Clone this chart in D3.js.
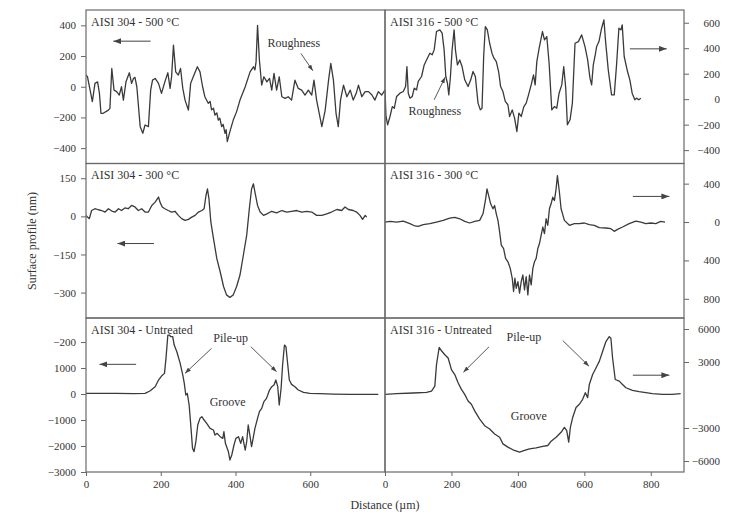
<!DOCTYPE html>
<html>
<head>
<meta charset="utf-8">
<script src="https://cdn.jsdelivr.net/npm/d3@7"></script>
<style>
  body { margin: 0; background: #fff; }
  svg { display: block; }
  text { font-family: 'Liberation Serif', 'Times New Roman', serif; fill: #333; }
</style>
</head>
<body>
<div id="chart"></div>
<script>
// surface profiles, [distance (um), height (nm)]
const p304_500 = [[0,76],[4,65],[11,-22],[17,-97],[24,22],[31,32],[36,-43],[40,-173],[46,-173],[60,-152],[64,-141],[69,119],[75,-22],[82,-32],[89,-54],[95,0],[100,-87],[107,32],[116,91],[122,22],[127,54],[131,61],[136,0],[145,-260],[152,-303],[158,-249],[167,-260],[173,-22],[178,43],[185,54],[194,22],[202,-43],[211,32],[219,91],[225,-11],[229,65],[234,271],[240,97],[247,76],[253,119],[259,-11],[265,-87],[274,-152],[280,22],[287,65],[298,130],[305,97],[312,0],[318,-65],[327,-108],[332,-95],[336,-150],[341,-140],[345,-184],[350,-170],[354,-217],[358,-205],[363,-260],[367,-245],[372,-303],[375,-280],[378,-357],[382,-320],[385,-292],[390,-250],[394,-217],[403,-162],[412,-87],[426,0],[439,97],[448,130],[452,110],[455,162],[459,400],[464,173],[470,11],[476,65],[484,32],[491,54],[497,-22],[503,87],[510,-22],[517,65],[524,-65],[533,-76],[541,-65],[550,-87],[559,43],[568,-11],[577,-22],[586,-54],[595,-22],[604,-54],[610,43],[617,-87],[624,-173],[631,-260],[640,-152],[649,43],[655,152],[662,43],[669,-173],[675,-260],[681,-87],[689,11],[698,-65],[707,-22],[715,-87],[723,-43],[729,11],[738,-65],[747,-32],[756,-32],[765,-54],[773,-87],[782,-32],[791,-54],[800,-22]];

const p316_500 = [[0,73],[3,-136],[8,-201],[15,-136],[22,-58],[28,-71],[35,21],[45,47],[55,60],[62,99],[66,256],[70,47],[75,8],[82,21],[88,86],[95,73],[100,139],[110,178],[118,269],[125,308],[135,361],[142,348],[148,387],[155,531],[165,544],[172,518],[178,387],[183,178],[188,125],[192,34],[197,178],[202,387],[208,544],[212,387],[218,269],[225,308],[232,256],[240,152],[250,99],[258,152],[265,217],[272,178],[280,-31],[287,-84],[292,-71],[297,335],[302,570],[308,544],[315,439],[322,361],[328,322],[335,295],[342,217],[348,99],[355,60],[362,-18],[370,-44],[375,-136],[383,-84],[390,-149],[397,-254],[403,-110],[410,-136],[418,-58],[425,-31],[432,34],[440,112],[447,191],[452,112],[457,295],[464,400],[474,531],[480,465],[487,491],[494,282],[502,-84],[510,-58],[517,-71],[524,47],[532,112],[538,256],[544,86],[549,-201],[557,-162],[564,-31],[572,439],[582,452],[592,505],[602,413],[610,308],[617,165],[622,112],[627,269],[632,335],[637,413],[644,452],[652,557],[659,622],[664,452],[672,230],[682,34],[690,34],[697,269],[704,557],[710,544],[714,583],[720,335],[730,217],[737,152],[744,47],[752,-5],[757,8],[764,-5],[770,8]];

const p304_300 = [[0,4],[4,-3],[9,-9],[15,23],[24,30],[33,26],[42,23],[51,17],[60,30],[69,21],[78,17],[87,30],[95,23],[104,33],[113,30],[122,43],[131,37],[140,23],[149,30],[158,17],[167,17],[176,43],[185,56],[194,76],[198,56],[204,37],[211,30],[220,23],[229,17],[238,20],[247,4],[256,-9],[265,-16],[274,-12],[283,-3],[292,4],[301,17],[310,23],[316,30],[321,82],[325,108],[329,69],[334,-22],[341,-87],[350,-166],[359,-218],[368,-276],[376,-309],[385,-319],[394,-309],[403,-276],[412,-231],[421,-153],[430,-74],[437,30],[443,108],[448,128],[452,95],[459,43],[466,17],[475,4],[484,10],[497,20],[510,14],[524,23],[537,17],[550,20],[564,23],[577,17],[591,20],[604,17],[617,4],[631,4],[644,10],[657,17],[671,27],[684,23],[693,37],[702,27],[715,23],[724,17],[733,4],[740,-12],[747,4],[751,-3]];

const p316_300 = [[0,0],[15,7],[35,0],[55,10],[75,-17],[90,-41],[100,-45],[115,-28],[135,-17],[155,0],[175,17],[195,41],[210,48],[225,34],[240,7],[255,-10],[270,7],[285,17],[295,86],[303,241],[307,345],[312,276],[318,190],[325,138],[330,172],[335,86],[340,17],[345,-103],[350,-241],[357,-276],[363,-379],[370,-414],[377,-483],[383,-586],[387,-724],[391,-586],[395,-690],[400,-621],[405,-741],[410,-621],[415,-552],[420,-707],[425,-569],[430,-759],[435,-552],[440,-655],[445,-483],[450,-414],[455,-379],[460,-276],[465,-224],[470,-138],[475,-52],[480,-121],[485,34],[490,-34],[495,138],[500,190],[505,259],[510,224],[515,345],[519,483],[525,310],[530,138],[540,17],[555,-34],[570,-17],[585,-17],[600,-10],[615,-28],[630,-34],[645,-59],[665,-62],[680,-69],[690,-97],[700,-76],[715,-52],[735,-17],[755,10],[770,0],[785,-17],[800,-10],[815,-17],[830,7],[843,0]];

const p304_un = [[0,26],[37,26],[82,26],[127,13],[158,26],[171,115],[185,282],[194,538],[202,692],[210,795],[214,1372],[219,2269],[223,2269],[227,2205],[232,2205],[236,1885],[243,1628],[252,1179],[259,731],[263,410],[267,-38],[271,26],[276,-423],[281,-1320],[285,-2090],[289,-2218],[294,-1833],[299,-1192],[305,-936],[310,-872],[316,-1000],[323,-1128],[332,-1320],[341,-1384],[345,-1577],[351,-1513],[359,-1641],[366,-1705],[369,-1449],[373,-1897],[381,-2218],[385,-2538],[390,-2346],[396,-1961],[401,-1705],[408,-1641],[414,-1897],[419,-1641],[426,-2154],[430,-1833],[434,-1192],[439,-1641],[443,-2026],[448,-1641],[452,-1320],[459,-936],[464,-679],[470,-551],[476,-295],[483,-167],[491,154],[497,282],[503,346],[508,538],[513,282],[517,-423],[522,218],[526,1115],[531,1885],[535,1820],[539,1244],[544,538],[550,372],[559,282],[568,154],[582,64],[599,26],[626,13],[662,0],[707,-13],[751,-13],[782,-13]];

const p316_un = [[0,60],[35,120],[85,180],[125,240],[140,360],[150,810],[155,2760],[163,4320],[170,4020],[180,3660],[190,3360],[200,2310],[210,1860],[220,1110],[230,510],[240,60],[250,-540],[260,-840],[270,-1440],[285,-2190],[300,-2790],[315,-3090],[330,-3540],[345,-3840],[355,-4440],[370,-4740],[385,-4980],[405,-5190],[420,-5040],[435,-4890],[455,-4800],[475,-4680],[490,-4590],[500,-4200],[515,-3840],[530,-3390],[540,-2940],[547,-3240],[553,-4290],[558,-2940],[565,-2040],[575,-1140],[585,-840],[595,-390],[603,210],[610,-240],[615,960],[625,1860],[635,2460],[645,3060],[655,3960],[665,4860],[675,5310],[680,5160],[685,3360],[693,1410],[705,1260],[715,960],[725,660],[745,420],[765,300],[785,210],[805,120],[835,60],[865,60],[890,120]];

const profiles = [p304_500, p316_500, p304_300, p316_300, p304_un, p316_un];
const panelTitles = ['AISI 304 - 500 °C', 'AISI 316 - 500 °C', 'AISI 304 - 300 °C', 'AISI 316 - 300 °C', 'AISI 304 - Untreated', 'AISI 316 - Untreated'];

const xDomainLeft = [0, 800];
const xDomainRight = [0, 900];
const xTicksLeft = [0, 200, 400, 600];
const xTicksRight = [0, 200, 400, 600, 800];

const yDomains = [[-500, 500], [-505, 700], [-400, 208], [-1000, 610], [-3000, 2925], [-7000, 7000]];
const yTicks = [[-400,-200,0,200,400], [-400,-200,0,200,400,600], [-300,-150,0,150], [-800,-400,0,400], [-3000,-2000,-1000,0,1000,2000], [-6000,-3000,3000,6000]];
// labels as printed (including the unsigned lower labels and the "−200" typo)
const yTickLabels = [['−400','−200','0','200','400'], ['−400','−200','0','200','400','600'], ['−300','−150','0','150'], ['800','400','0','400'], ['−3000','−2000','−1000','0','1000','−200'], ['−6000','−3000','3000','6000']];

// axis-side arrows per panel: [x from, x to, y]
const sideArrows = [[173,73,297], [737,848,395], [182,84,-107], [746,856,267], [134,36,1142], [746,856,1800]];

// annotations: panel index, text, x, y
const notes = [
  { p: 0, text: 'Roughness', x: 556, y: 286 },
  { p: 1, text: 'Roughness', x: 150, y: -92 },
  { p: 4, text: 'Pile-up', x: 387, y: 2150 },
  { p: 4, text: 'Groove', x: 379, y: -296 },
  { p: 5, text: 'Pile-up', x: 418, y: 5255 },
  { p: 5, text: 'Groove', x: 433, y: -1927 }
];
const pointers = [
  { p: 0, x1: 575, y1: 217, x2: 607, y2: 104 },
  { p: 1, x1: 148, y1: -5, x2: 181, y2: 173 },
  { p: 4, x1: 336, y1: 1758, x2: 265, y2: 796 },
  { p: 4, x1: 441, y1: 1819, x2: 510, y2: 858 },
  { p: 5, x1: 313, y1: 4382, x2: 236, y2: 2073 },
  { p: 5, x1: 535, y1: 4955, x2: 614, y2: 2618 }
];

const width = 739, height = 515;
const cols = [[86, 385], [385, 684]];
const rows = [[10, 163.5], [163.5, 318], [318, 472]];

const svg = d3.select('#chart').append('svg')
  .attr('width', width)
  .attr('height', height);

const defs = svg.append('defs');
defs.append('marker')
  .attr('id', 'head')
  .attr('viewBox', '0 0 8 6')
  .attr('refX', 8).attr('refY', 3)
  .attr('markerWidth', 8).attr('markerHeight', 6)
  .attr('markerUnits', 'userSpaceOnUse')
  .attr('orient', 'auto')
  .append('path').attr('d', 'M0,0L8,3L0,6Z').attr('fill', '#444');
defs.append('marker')
  .attr('id', 'head-sm')
  .attr('viewBox', '0 0 7 5')
  .attr('refX', 7).attr('refY', 2.5)
  .attr('markerWidth', 6).attr('markerHeight', 4.5)
  .attr('markerUnits', 'userSpaceOnUse')
  .attr('orient', 'auto')
  .append('path').attr('d', 'M0,0L7,2.5L0,5Z').attr('fill', '#444');

const scales = [];

profiles.forEach((data, i) => {
  const r = Math.floor(i / 2), c = i % 2;
  const [x0, x1] = cols[c];
  const [y0, y1] = rows[r];

  const x = d3.scaleLinear().domain(c === 0 ? xDomainLeft : xDomainRight).range([x0, x1]);
  const y = d3.scaleLinear().domain(yDomains[i]).range([y1, y0]);
  scales.push({ x, y });

  defs.append('clipPath').attr('id', 'clip' + i)
    .append('rect').attr('x', x0).attr('y', y0).attr('width', x1 - x0).attr('height', y1 - y0);

  // y axis, left for 304, right for 316
  const labels = yTickLabels[i];
  const ticks = yTicks[i];
  const axis = (c === 0 ? d3.axisLeft(y) : d3.axisRight(y))
    .tickValues(ticks)
    .tickFormat((d, k) => labels[k])
    .tickSize(5)
    .tickPadding(5)
    .tickSizeOuter(0);

  const g = svg.append('g')
    .attr('transform', `translate(${c === 0 ? x0 : x1},0)`)
    .call(axis);
  g.select('.domain').remove();
  g.selectAll('line').attr('stroke', '#666');
  g.selectAll('text').style('font-size', '11px').attr('fill', '#333');
  if (c === 1) {
    g.selectAll('text').attr('text-anchor', 'end').attr('x', 36);
  }

  // x axis only along the bottom row
  if (r === 2) {
    const gx = svg.append('g')
      .attr('transform', `translate(0,${y1})`)
      .call(d3.axisBottom(x).tickValues(c === 0 ? xTicksLeft : xTicksRight).tickSize(4).tickPadding(4).tickSizeOuter(0));
    gx.select('.domain').remove();
    gx.selectAll('line').attr('stroke', '#666');
    gx.selectAll('text').style('font-size', '11px').attr('fill', '#333');
  }

  // the profile line
  svg.append('path')
    .datum(data)
    .attr('clip-path', `url(#clip${i})`)
    .attr('fill', 'none')
    .attr('stroke', '#3a3a3a')
    .attr('stroke-width', 1.3)
    .attr('stroke-linejoin', 'round')
    .attr('d', d3.line().x(d => x(d[0])).y(d => y(d[1])));

  // panel title
  svg.append('text')
    .attr('x', x0 + 5)
    .attr('y', y0 + 15.5)
    .style('font-size', '12px')
    .text(panelTitles[i]);

  // arrow showing which axis applies
  const a = sideArrows[i];
  svg.append('line')
    .attr('x1', x(a[0])).attr('x2', x(a[1]))
    .attr('y1', y(a[2])).attr('y2', y(a[2]))
    .attr('stroke', '#444')
    .attr('stroke-width', 1)
    .attr('marker-end', 'url(#head)');
});

// panel frames
svg.append('g').selectAll('rect')
  .data(d3.range(6))
  .join('rect')
  .attr('x', i => cols[i % 2][0])
  .attr('y', i => rows[Math.floor(i / 2)][0])
  .attr('width', i => cols[i % 2][1] - cols[i % 2][0])
  .attr('height', i => rows[Math.floor(i / 2)][1] - rows[Math.floor(i / 2)][0])
  .attr('fill', 'none')
  .attr('stroke', '#6a6a6a')
  .attr('stroke-width', 1.2);

// annotations
svg.append('g').selectAll('text')
  .data(notes)
  .join('text')
  .attr('x', d => scales[d.p].x(d.x))
  .attr('y', d => scales[d.p].y(d.y))
  .attr('dy', '0.35em')
  .attr('text-anchor', 'middle')
  .style('font-size', '12px')
  .text(d => d.text);

svg.append('g').selectAll('line')
  .data(pointers)
  .join('line')
  .attr('x1', d => scales[d.p].x(d.x1))
  .attr('y1', d => scales[d.p].y(d.y1))
  .attr('x2', d => scales[d.p].x(d.x2))
  .attr('y2', d => scales[d.p].y(d.y2))
  .attr('stroke', '#444')
  .attr('stroke-width', 0.9)
  .attr('marker-end', 'url(#head-sm)');

// axis titles
svg.append('text')
  .attr('transform', `translate(32,${(rows[0][0] + rows[2][1]) / 2}) rotate(-90)`)
  .attr('text-anchor', 'middle')
  .attr('dy', '0.35em')
  .style('font-size', '12px')
  .text('Surface profile (nm)');

svg.append('text')
  .attr('x', cols[1][0])
  .attr('y', 505)
  .attr('text-anchor', 'middle')
  .attr('dy', '0.35em')
  .style('font-size', '12px')
  .text('Distance (µm)');
</script>
</body>
</html>
